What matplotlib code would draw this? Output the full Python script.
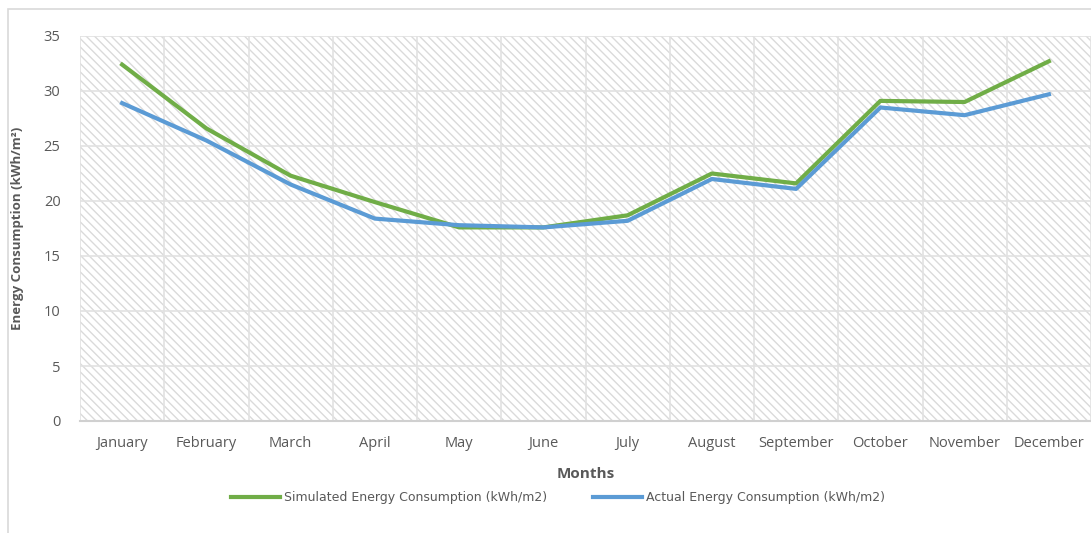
import numpy as np
import matplotlib.pyplot as plt
from matplotlib.patches import Rectangle

# Monthly energy consumption, kWh/m2
months = ['January', 'February', 'March', 'April', 'May', 'June', 'July',
          'August', 'September', 'October', 'November', 'December']
simulated = [32.4, 26.6, 22.3, 19.9, 17.6, 17.6, 18.7, 22.5, 21.6, 29.1, 29.0, 32.7]
actual = [28.9, 25.5, 21.5, 18.4, 17.8, 17.6, 18.2, 22.0, 21.1, 28.5, 27.8, 29.7]

plt.rcParams['font.family'] = ['Open Sans', 'DejaVu Sans']
plt.rcParams['hatch.linewidth'] = 1.0

W, H = 1091, 533
fig = plt.figure(figsize=(W / 100, H / 100), dpi=100)
ax = fig.add_axes([80 / W, (H - 421) / H, (W - 80) / W, (421 - 36) / H])

# outer chart border
fig.patches.append(Rectangle((8 / W, -0.01), 1.0, (H - 8.5) / H + 0.01,
                             transform=fig.transFigure, fill=False,
                             edgecolor='#d9d9d9', linewidth=1.2, zorder=0))

x = np.arange(len(months))

# hatched plot area
ax.add_patch(Rectangle((0, 0), 1, 1, transform=ax.transAxes, facecolor='white',
                       edgecolor='#dadada', linewidth=0, hatch='\\\\\\\\', zorder=0.5))

ax.plot(x, simulated, color='#70ad47', linewidth=3, label='Simulated Energy Consumption (kWh/m2)', zorder=3)
ax.plot(x, actual, color='#5b9bd5', linewidth=3, label='Actual Energy Consumption (kWh/m2)', zorder=3)

ax.set_xlim(-0.5, len(months) - 0.5)
ax.set_ylim(0, 35)
ax.set_yticks(np.arange(0, 36, 5))
ax.set_xticks(x)
ax.set_xticklabels(months)
ax.set_xticks(np.arange(-0.5, len(months), 1), minor=True)

ax.grid(axis='y', which='major', color='#e2e2e2', linewidth=1.2, zorder=1)
ax.grid(axis='x', which='minor', color='#e2e2e2', linewidth=1.2, zorder=1)

for s in ['top', 'right', 'left']:
    ax.spines[s].set_visible(False)
ax.spines['bottom'].set_color('#d0d0d0')
ax.spines['bottom'].set_linewidth(1.5)

ax.tick_params(axis='both', which='both', length=0, colors='#595959', labelsize=10.5)
ax.tick_params(axis='x', pad=11)
ax.tick_params(axis='y', pad=14)

ax.set_xlabel('Months', fontsize=11, fontweight='bold', color='#595959', labelpad=11)
ax.set_ylabel('Energy Consumption (kWh/m²)', fontsize=9.5, fontweight='bold', color='#595959', labelpad=14)

fig.legend(loc='center', bbox_to_anchor=(558 / W, 1 - 498 / H), ncol=2, frameon=False,
           prop={'family': 'Liberation Sans Narrow', 'size': 9},
           handlelength=3.9, handletextpad=0.3, columnspacing=3.7,
           labelcolor='#595959')

fig.savefig('out.png', dpi=100)
